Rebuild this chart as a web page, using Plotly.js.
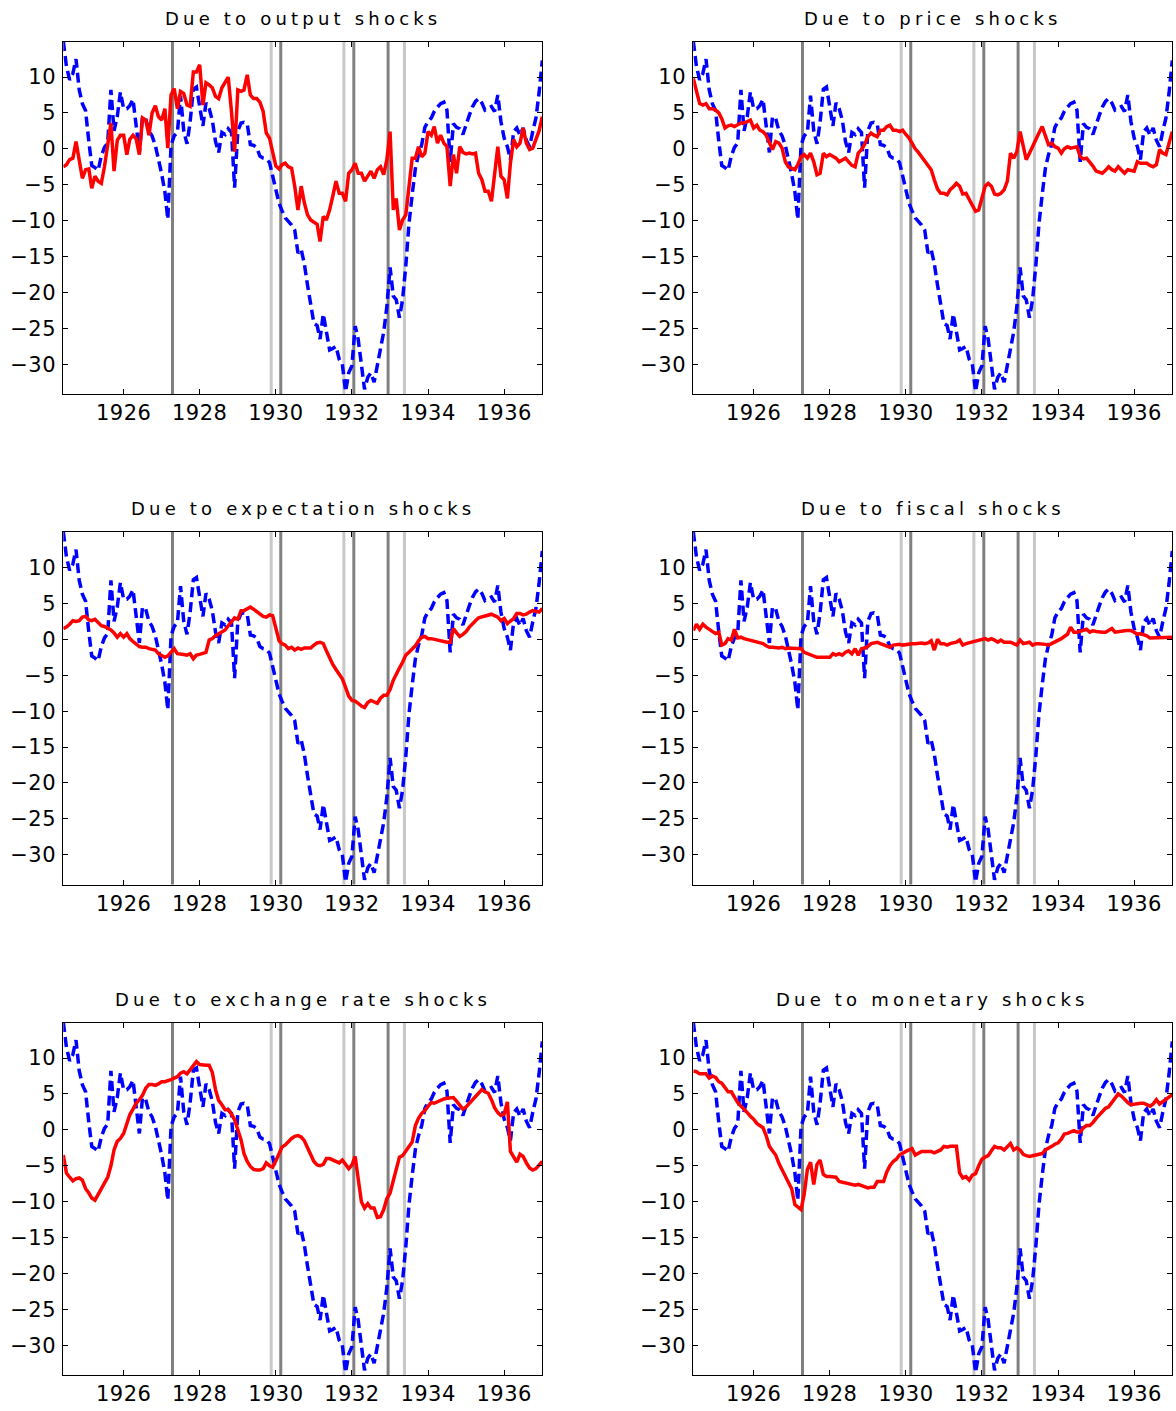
<!DOCTYPE html>
<html>
<head>
<meta charset="utf-8">
<script src="https://cdn.plot.ly/plotly-3.0.1.min.js"></script>
<style>
  html, body { margin: 0; padding: 0; background: #ffffff; }
  #chart { width: 1176px; height: 1411px; }
  .xaxislayer-above text, .yaxislayer-above text { letter-spacing: 0.5px; }
  .annotation-text { letter-spacing: 4.2px; }
</style>
</head>
<body>
<div id="chart"></div>
<script>
// Monthly series, June 1924 - January 1937
const firstYear = 1924;
const firstMonth = 6;
const nMonths = 152;

// Observed path (dashed blue), identical in every panel
const actual = [15.0, 11.5, 9.6, 10.5, 12.5, 8.2, 6.3, 5.3, 1.0, -2.3,
  -2.6, -3.0, -1.0, 0.2, 0.8, 8.2, 2.5, 4.5, 7.9, 5.6,
  5.6, 6.0, 6.9, 3.5, -0.5, 4.5, 4.2, 2.5, 1.8, 0.5,
  -1.4, -3.5, -6.0, -9.8, 0.5, 1.8, 2.3, 7.4, 2.5, 0.7,
  3.7, 8.3, 8.6, 6.0, 3.2, 6.4, 5.6, 4.0, 1.0, -0.5,
  2.3, 2.0, 2.8, 2.3, -5.4, 2.5, 3.6, 3.7, 3.5, 0.6,
  0.5, 0.2, -1.0, -1.3, -1.4, -1.9, -3.7, -6.0, -7.6, -8.6,
  -9.6, -10.1, -10.6, -11.3, -14.5, -14.0, -16.0, -19.0, -21.5, -24.3,
  -24.6, -26.5, -23.0, -25.5, -28.0, -27.8, -27.5, -29.3, -30.0, -33.8,
  -31.2, -30.2, -24.7, -26.5, -30.0, -33.5, -31.8, -31.2, -32.5, -30.0,
  -28.0, -25.5, -22.0, -16.5, -20.5, -21.0, -23.5, -21.0, -16.3, -10.5,
  -6.4, -2.7, -0.8, 0.6, 3.0, 3.8, 4.3, 5.2, 5.8, 6.3,
  6.5, 5.4, -1.8, 3.5, 3.0, 2.8, 2.0, 3.5, 4.7, 5.8,
  6.6, 7.0, 6.4, 5.4, 5.6, 5.9, 5.2, 7.5, 3.8, 1.5,
  0.3, -1.5, 2.4, 2.9, 1.9, 2.9, 1.2, 0.3, 2.4, 4.3,
  7.8, 12.3];

// Contributions of each shock (solid red)
const outputShock = [-2.5, -2.2, -1.5, -1.3, 1.0, -1.5, -4.1, -2.9, -2.8, -5.5,
  -3.8, -4.5, -4.8, -2.5, 0.5, 3.6, -3.1, 1.2, 1.9, 1.9,
  -0.8, 1.3, 1.9, 1.4, -0.8, 4.3, 4.0, 1.9, 5.0, 6.0,
  4.5, 4.0, 5.6, 0.1, 7.5, 8.4, 5.6, 8.0, 7.7, 6.1,
  5.9, 10.7, 10.7, 11.7, 6.1, 9.2, 8.9, 8.5, 7.3, 7.0,
  8.5, 9.3, 10.0, 5.2, -0.4, 8.2, 8.0, 8.2, 10.3, 7.5,
  7.0, 7.0, 6.5, 5.2, 2.2, 1.5, -0.2, -2.4, -2.8, -2.2,
  -2.0, -2.5, -2.7, -5.2, -8.5, -5.2, -7.5, -9.2, -9.9, -10.2,
  -10.5, -12.9, -9.4, -9.9, -8.5, -6.6, -4.5, -6.2, -6.2, -7.3,
  -3.4, -2.9, -2.0, -3.4, -3.4, -4.5, -3.8, -3.1, -4.1, -2.9,
  -2.5, -3.6, -1.5, 2.4, -8.5, -6.9, -11.3, -9.9, -9.2, -5.7,
  -1.3, -1.3, 0.3, -1.1, -0.6, 2.4, 1.9, 3.1, 0.8, 1.9,
  0.8, 0.3, -5.2, -0.8, -3.4, 0.3, -0.5, -0.7, -0.6, -0.7,
  -0.6, -3.4, -4.3, -5.9, -5.9, -7.3, -3.0, 0.3, -3.8, -4.3,
  -6.9, -2.0, 1.3, 0.3, 0.8, 2.9, 0.8, -0.1, 0.1, 1.2,
  2.5, 4.5];

const priceShock = [9.8, 7.8, 6.3, 6.1, 6.3, 5.6, 5.6, 5.4, 5.0, 4.2,
  2.9, 3.2, 3.3, 3.1, 3.3, 3.6, 3.6, 3.8, 4.0, 2.9,
  3.3, 2.6, 2.4, 1.9, 1.0, -0.1, 1.0, 0.8, 0.1, -1.8,
  -2.5, -2.7, -2.9, -2.2, -1.1, -0.8, -1.3, -0.6, -1.8, -3.6,
  -3.4, -0.6, -1.1, -0.8, -1.1, -1.3, -1.8, -1.5, -1.3, -1.8,
  -2.3, -2.5, -0.6, -0.1, 0.6, 1.7, 2.2, 1.9, 1.7, 2.6,
  2.6, 3.1, 3.3, 2.6, 2.6, 2.4, 2.6, 2.0, 1.5, 0.8,
  0.0, -0.5, -1.1, -1.5, -2.2, -2.9, -4.3, -5.6, -6.2, -6.2,
  -6.4, -5.7, -5.3, -4.8, -5.2, -6.3, -6.2, -7.0, -8.0, -8.7,
  -8.5, -7.0, -5.2, -4.8, -5.2, -6.3, -6.4, -6.2, -5.7, -4.5,
  -0.6, -1.3, -0.4, 2.4, 0.3, -1.5, -0.6, 0.4, 1.3, 2.2,
  3.1, 1.7, 0.6, 0.8, 0.3, 0.1, -0.6, 0.0, 0.3, 0.1,
  0.2, 0.3, -1.1, -1.4, -1.3, -1.8, -2.4, -3.1, -3.3, -3.4,
  -3.0, -2.5, -2.9, -3.1, -2.5, -3.0, -3.4, -2.9, -3.0, -3.1,
  -1.8, -2.0, -2.0, -2.0, -2.3, -2.5, -2.2, -0.1, -0.6, -0.8,
  0.8, 2.4];

const expectationShock = [1.5, 1.7, 2.1, 2.6, 2.5, 2.6, 3.1, 3.2, 2.7, 2.6,
  2.8, 2.4, 1.9, 1.8, 1.6, 1.3, 0.9, 0.3, 0.8, 0.3,
  0.8, 0.1, -0.3, -0.7, -1.0, -1.1, -1.1, -1.3, -1.4, -1.5,
  -2.0, -2.3, -2.5, -2.3, -1.8, -1.3, -2.0, -2.0, -2.1, -2.2,
  -2.0, -2.7, -2.2, -2.1, -2.0, -1.8, -0.1, 0.1, 0.5, 0.8,
  1.1, 1.3, 1.9, 2.4, 3.0, 2.8, 4.0, 4.0, 4.2, 4.5,
  4.2, 3.9, 3.6, 3.2, 3.1, 3.4, 3.3, 1.5, -0.2, -0.6,
  -0.8, -1.3, -1.1, -1.5, -1.2, -1.4, -1.2, -1.2, -1.2, -0.8,
  -0.5, -0.4, -0.6, -1.6, -2.7, -3.5, -4.2, -4.8, -5.5, -6.7,
  -7.9, -8.5, -8.6, -8.9, -9.3, -9.5, -8.8, -8.5, -8.7, -8.9,
  -8.2, -7.8, -7.8, -7.0, -5.7, -4.8, -4.0, -3.2, -2.2, -1.8,
  -1.3, -0.9, -0.2, 0.3, 0.4, 0.1, 0.1, 0.0, -0.1, -0.3,
  -0.4, -0.4, -0.4, 1.5, 0.9, 0.4, 0.7, 1.1, 1.7, 2.2,
  2.6, 3.0, 3.1, 3.2, 3.4, 3.5, 3.3, 3.1, 2.6, 2.9,
  2.2, 2.6, 2.9, 3.6, 3.6, 3.4, 3.5, 3.8, 4.0, 3.9,
  3.8, 4.3];

const fiscalShock = [1.25, 2.1, 1.4, 2.1, 1.7, 1.4, 1.0, 0.8, 1.0, -0.8,
  -0.6, 0.1, -0.1, 1.4, 0.2, 0.3, 0.1, 0.0, -0.1, -0.3,
  -0.4, -0.5, -0.6, -0.9, -1.1, -1.1, -1.2, -1.2, -1.1, -1.3,
  -1.2, -1.2, -1.3, -1.3, -1.3, -1.8, -2.0, -2.1, -2.3, -2.5,
  -2.5, -2.5, -2.5, -2.5, -2.0, -2.2, -2.0, -2.2, -1.8, -1.6,
  -2.0, -1.3, -2.2, -1.3, -1.2, -1.0, -0.6, -0.5, -0.4, -0.6,
  -0.8, -0.9, -1.1, -0.8, -0.7, -0.7, -0.8, -0.7, -0.6, -0.6,
  -0.6, -0.5, -0.5, -0.6, -0.5, -0.2, -1.5, 0.0, -0.6, -0.6,
  -0.8, -0.6, -0.5, -0.4, -0.1, -0.8, -0.6, -0.5, -0.4, -0.3,
  -0.1, 0.0, 0.1, -0.1, 0.1, -0.1, -0.4, -0.1, -0.4, -0.4,
  -0.4, -0.6, -0.8, -0.1, -0.6, -0.5, -0.4, -0.8, -0.6, -0.6,
  -0.6, -0.7, -0.8, -0.6, -0.4, -0.1, 0.1, 0.4, 0.7, 1.7,
  1.0, 1.0, 1.1, 1.3, 1.4, 1.0, 1.2, 1.1, 1.0, 1.0,
  1.0, 1.2, 1.5, 1.0, 1.1, 1.2, 1.2, 1.25, 1.25, 1.0,
  0.7, 0.8, 0.7, 0.5, 0.2, 0.2, 0.3, 0.3, 0.3, 0.3,
  0.3, 0.3];

const exchangeShock = [-3.5, -6.0, -6.6, -7.1, -6.8, -6.7, -7.0, -8.2, -8.8, -9.5,
  -9.8, -9.0, -8.3, -7.6, -6.6, -5.0, -2.8, -1.6, -1.2, -0.5,
  0.9, 2.1, 2.9, 3.7, 4.2, 4.8, 5.8, 6.3, 6.3, 6.2,
  6.4, 6.7, 6.7, 6.8, 7.0, 7.2, 7.4, 7.9, 8.1, 7.8,
  8.3, 9.0, 9.5, 9.1, 9.0, 9.0, 9.0, 8.0, 5.6, 4.1,
  3.5, 2.8, 2.8, 2.2, 1.4, 0.0, -1.4, -3.3, -4.4, -5.1,
  -5.5, -5.6, -5.6, -5.4, -4.6, -5.0, -5.2, -4.3, -3.3, -2.4,
  -2.1, -1.6, -1.2, -0.9, -0.8, -1.0, -1.5, -2.5, -3.4, -4.4,
  -4.9, -5.0, -4.8, -4.0, -4.0, -4.2, -4.4, -4.6, -4.2, -4.9,
  -5.4, -4.9, -3.7, -6.8, -10.0, -10.9, -10.3, -10.9, -10.9, -12.2,
  -12.1, -11.1, -9.6, -8.8, -7.2, -5.4, -3.8, -3.6, -3.0, -2.5,
  -1.7, 0.6, 1.6, 2.3, 2.7, 3.3, 3.8, 3.7, 3.9, 4.2,
  4.3, 4.4, 4.5, 4.5, 4.0, 3.4, 2.9, 3.2, 3.7, 4.1,
  4.6, 5.1, 5.6, 5.3, 5.1, 4.2, 3.1, 2.4, 2.0, 2.2,
  3.9, -3.0, -3.7, -4.5, -3.4, -3.7, -4.6, -5.3, -5.6, -5.4,
  -4.9, -4.4];

const monetaryShock = [8.2, 8.1, 7.8, 7.8, 7.8, 7.2, 7.5, 7.3, 6.7, 6.5,
  5.9, 5.3, 5.3, 4.5, 3.8, 3.3, 2.9, 2.4, 1.9, 1.5,
  0.9, 0.6, 0.3, -0.8, -2.3, -2.9, -3.5, -4.7, -5.6, -6.3,
  -7.2, -8.2, -10.4, -10.7, -11.1, -9.0, -5.5, -4.5, -7.6, -4.8,
  -4.2, -6.2, -6.5, -6.5, -6.6, -6.6, -7.2, -7.3, -7.5, -7.5,
  -7.6, -7.7, -7.6, -7.8, -8.0, -8.1, -8.0, -8.0, -7.2, -7.2,
  -7.2, -5.9, -5.0, -4.4, -4.1, -3.5, -3.2, -3.0, -2.8, -2.6,
  -3.5, -3.2, -3.0, -3.0, -3.0, -3.0, -3.2, -3.0, -2.8, -2.3,
  -2.4, -2.3, -2.3, -2.3, -6.0, -6.7, -6.5, -7.0, -6.3, -6.1,
  -5.0, -4.1, -3.8, -3.6, -2.9, -2.3, -2.5, -2.5, -2.8, -2.3,
  -1.9, -2.8, -2.5, -2.8, -3.4, -3.6, -3.7, -3.6, -3.5, -3.4,
  -3.3, -2.8, -2.6, -2.3, -2.0, -1.8, -1.3, -0.6, -0.5, -0.3,
  -0.1, -0.3, -0.3, 0.3, 0.6, 0.6, 1.0, 1.6, 2.1, 2.5,
  3.0, 3.2, 3.8, 4.5, 5.0, 4.7, 4.2, 3.8, 3.5, 3.6,
  3.7, 3.7, 3.7, 3.5, 3.3, 3.6, 4.2, 3.6, 3.9, 4.3,
  4.6, 4.9];

const panelTitles = [
  'Due to output shocks', 'Due to price shocks',
  'Due to expectation shocks', 'Due to fiscal shocks',
  'Due to exchange rate shocks', 'Due to monetary shocks'
];
const panelSeries = [outputShock, priceShock, expectationShock,
  fiscalShock, exchangeShock, monetaryShock];

// Event markers (vertical bands)
const darkEvents = ['1927-04-15', '1930-02-17', '1932-01-19', '1932-12-13'];
const lightEvents = ['1929-11-17', '1931-10-16', '1933-05-19'];

const yearTicks = [1926, 1928, 1930, 1932, 1934, 1936];
const valueTicks = [-30, -25, -20, -15, -10, -5, 0, 5, 10];

// Month dates for the x axis
const months = [];
for (let i = 0; i < nMonths; i++) {
  const k = firstMonth - 1 + i;
  const y = firstYear + Math.floor(k / 12);
  const m = (k % 12) + 1;
  months.push(y + '-' + String(m).padStart(2, '0') + '-01');
}

const W = 1176, H = 1411;
const colsPx = [[63.3, 542.3], [693.3, 1172.3]];
const rowsPx = [[41.5, 394], [532, 884.5], [1022.5, 1375]];

const tickFont = { family: 'DejaVu Sans, sans-serif', size: 21, color: '#000000' };
const titleFont = { family: 'DejaVu Sans, sans-serif', size: 18, color: '#000000' };

const data = [];
const layout = {
  width: W, height: H,
  margin: { l: 0, r: 0, t: 0, b: 0, pad: 0 },
  paper_bgcolor: '#ffffff', plot_bgcolor: '#ffffff',
  showlegend: false,
  shapes: [], annotations: []
};

panelSeries.forEach((series, p) => {
  const n = p + 1;
  const xa = n === 1 ? 'x' : 'x' + n;
  const ya = n === 1 ? 'y' : 'y' + n;
  const col = p % 2, row = Math.floor(p / 2);
  const xd = [colsPx[col][0] / W, colsPx[col][1] / W];
  const yd = [1 - rowsPx[row][1] / H, 1 - rowsPx[row][0] / H];

  data.push({
    x: months, y: actual, xaxis: xa, yaxis: ya,
    type: 'scatter', mode: 'lines',
    line: { color: '#0000ff', width: 3.5, dash: '10px,5px' },
    hoverinfo: 'skip'
  });
  data.push({
    x: months, y: series, xaxis: xa, yaxis: ya,
    type: 'scatter', mode: 'lines',
    line: { color: '#ff0000', width: 3.5 },
    hoverinfo: 'skip'
  });

  const axCommon = {
    showgrid: false, zeroline: false,
    showline: true, linecolor: '#000000', linewidth: 1,
    mirror: 'ticks', ticks: 'inside', ticklen: 5, tickwidth: 1, tickcolor: '#000000',
    tickfont: tickFont, fixedrange: true
  };
  layout['xaxis' + (n === 1 ? '' : n)] = Object.assign({}, axCommon, {
    type: 'date', domain: xd, anchor: ya,
    range: [months[0], months[months.length - 1]],
    tickmode: 'array',
    tickvals: yearTicks.map(y => y + '-01-01'),
    ticktext: yearTicks.map(String)
  });
  layout['yaxis' + (n === 1 ? '' : n)] = Object.assign({}, axCommon, {
    domain: yd, anchor: xa,
    range: [-34.14, 14.95],
    tickmode: 'array', tickvals: valueTicks,
    ticklabelstandoff: 2
  });

  darkEvents.forEach(d => layout.shapes.push({
    type: 'line', xref: xa, yref: ya + ' domain', x0: d, x1: d, y0: 0, y1: 1,
    line: { color: '#808080', width: 3 }, layer: 'below'
  }));
  lightEvents.forEach(d => layout.shapes.push({
    type: 'line', xref: xa, yref: ya + ' domain', x0: d, x1: d, y0: 0, y1: 1,
    line: { color: '#c8c8c8', width: 3 }, layer: 'below'
  }));

  layout.annotations.push({
    text: panelTitles[p], xref: 'paper', yref: 'paper',
    x: (xd[0] + xd[1]) / 2, y: yd[1], xanchor: 'center', yanchor: 'middle',
    yshift: 23.5, showarrow: false,
    font: titleFont
  });
});

Plotly.newPlot('chart', data, layout, { displayModeBar: false, staticPlot: true });
</script>
</body>
</html>
